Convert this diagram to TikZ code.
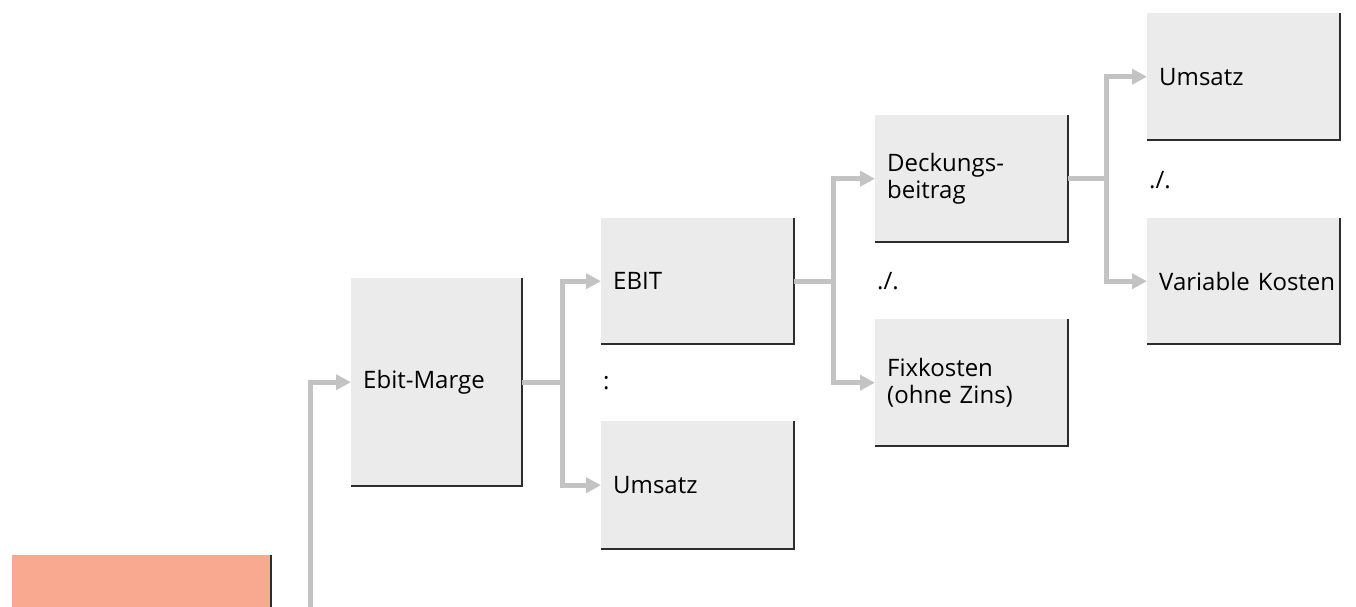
\documentclass[tikz,border=0pt]{standalone}
\usepackage{fontspec}
\setmainfont{Open Sans}
\usepackage{tikz}
\usetikzlibrary{arrows.meta,positioning}
\definecolor{boxgray}{RGB}{235,235,235}
\definecolor{linegray}{RGB}{195,195,195}
\definecolor{salmon}{RGB}{248,169,143}
\definecolor{edgedark}{RGB}{45,45,45}

\begin{document}
\begin{tikzpicture}[x=1pt,y=-1pt,
    box/.style={fill=boxgray, anchor=north west, minimum width=193pt, minimum height=127pt, text width=169pt, inner xsep=12pt, align=left, font=\fontsize{24}{27}\selectfont},
    sep/.style={anchor=west, inner sep=0pt, font=\fontsize{24}{27}\selectfont},
    conn/.style={draw=linegray, line width=5pt, -{Triangle[length=15pt,width=15pt]}},
    rim/.style={draw=edgedark, line width=2pt}]
        \useasboundingbox (0,0) rectangle (1356,606);
        % Nodes
        \node[box, fill=salmon, minimum width=259pt, minimum height=60pt] (Z) at (12,555) {};
        \node[box, minimum width=171pt, minimum height=208pt, text width=147pt] (M) at (351,278) {Ebit-Marge};
        \node[box, minimum height=126pt] (E) at (601,218) {EBIT};
        \node[box, minimum height=128pt] (U) at (601,421) {Umsatz};
        \node[box] (D) at (875,115) {Deckungs-\\beitrag};
        \node[box] (F) at (875,319) {Fixkosten\\(ohne Zins)};
        \node[box] (U2) at (1147,13) {Umsatz};
        \node[box, minimum height=126pt] (V) at (1147,218) {\mbox{Variable Kosten}};
        \node[sep] (s1) at (603,383) {:};
        \node[sep] (s2) at (877,281) {./.};
        \node[sep] (s3) at (1149,180) {./.};
        \coordinate (in) at (310,612);
        % Kanten der Boxen
        \foreach \n in {Z,M,E,U,D,F,U2,V}
            \draw[rim] (\n.north east) |- (\n.south west);
        % Pfeile
        \draw[conn] (in) |- (M);
        \draw[conn] (M.east) -- ++(40,0) |- (E);
        \draw[conn] (M.east) -- ++(40,0) |- (U);
        \draw[conn] (E.east) -- ++(39,0) |- (D);
        \draw[conn] (E.east) -- ++(39,0) |- (F);
        \draw[conn] (D.east) -- ++(38,0) |- (U2);
        \draw[conn] (D.east) -- ++(38,0) |- (V);
    \end{tikzpicture}
\end{document}
